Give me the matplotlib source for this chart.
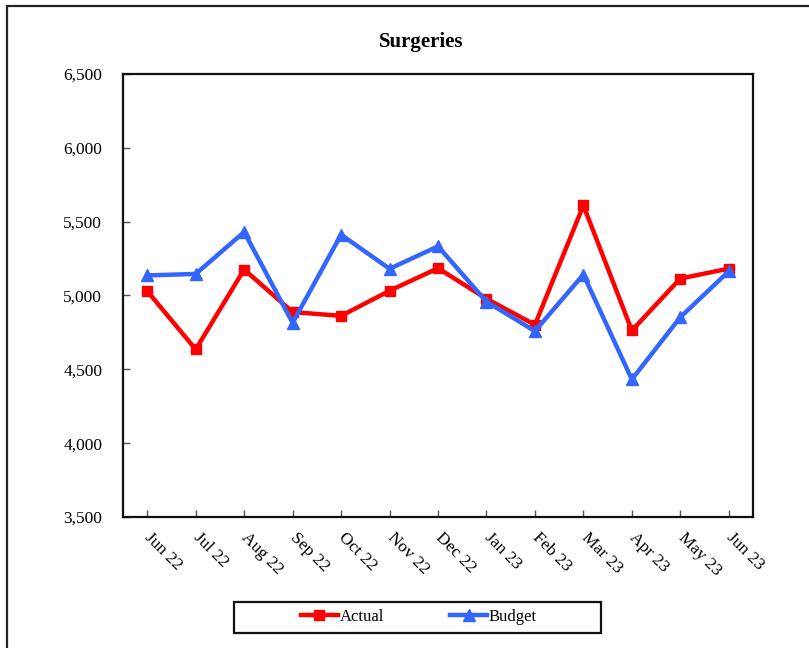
import matplotlib
matplotlib.use("Agg")
import matplotlib.pyplot as plt
from matplotlib.patches import Rectangle
from matplotlib.ticker import FuncFormatter, MultipleLocator

months = ["Jun 22", "Jul 22", "Aug 22", "Sep 22", "Oct 22", "Nov 22", "Dec 22",
          "Jan 23", "Feb 23", "Mar 23", "Apr 23", "May 23", "Jun 23"]
actual = [5030, 4635, 5176, 4888, 4862, 5032, 5185, 4978, 4802, 5610, 4763, 5115, 5182]
budget = [5136, 5146, 5430, 4815, 5412, 5181, 5333, 4958, 4759, 5142, 4432, 4853, 5164]

plt.rcParams["font.family"] = ["Liberation Serif", "DejaVu Serif"]

W, H = 809, 648
fig = plt.figure(figsize=(W / 100, H / 100), dpi=100)
fig.patch.set_facecolor("white")

# outer chart frame (runs past the right and bottom edges)
fig.patches.append(Rectangle((7 / W, -0.2), 1.2, 1.2 - 6 / H,
                             transform=fig.transFigure, fill=False,
                             edgecolor="#222222", linewidth=1.6))

ax = fig.add_axes([123 / W, 1 - 517 / H, (753 - 123) / W, (517 - 74) / H])
x = range(len(months))
ax.plot(x, actual, color="#FF0000", lw=3.2, marker="s", ms=7,
        label="Actual", zorder=3)
ax.plot(x, budget, color="#3366FF", lw=3.2, marker="^", ms=8.5,
        label="Budget", zorder=4)

ax.set_xlim(-0.5, len(months) - 0.5)
ax.set_ylim(3500, 6500)
ax.yaxis.set_major_locator(MultipleLocator(500))
ax.yaxis.set_major_formatter(FuncFormatter(lambda v, p: f"{int(v):,}"))
ax.set_xticks(list(x))
ax.set_xticklabels(months, rotation=-45, ha="left", va="center",
                   rotation_mode="anchor")
ax.tick_params(axis="both", direction="in", length=5, width=1, labelsize=12.5,
               color="#555555")
ax.tick_params(axis="y", pad=15)
ax.tick_params(axis="x", pad=13)
for s in ax.spines.values():
    s.set_linewidth(1.6)
    s.set_color("#111111")

fig.text(421 / W, 1 - 42 / H, "Surgeries", ha="center", va="center",
         fontsize=15, fontweight="bold")

# legend box
fig.patches.append(Rectangle((234 / W, 1 - 633 / H), (601 - 234) / W, 31 / H,
                             transform=fig.transFigure, fill=False,
                             edgecolor="#111111", linewidth=1.6))
fig.legend(loc="center", bbox_to_anchor=(419 / W, 1 - 617 / H), ncol=2,
           frameon=False, fontsize=12, handlelength=2.2, handletextpad=0.1,
           columnspacing=4.0)

fig.savefig("out.png", dpi=100, facecolor="white")
